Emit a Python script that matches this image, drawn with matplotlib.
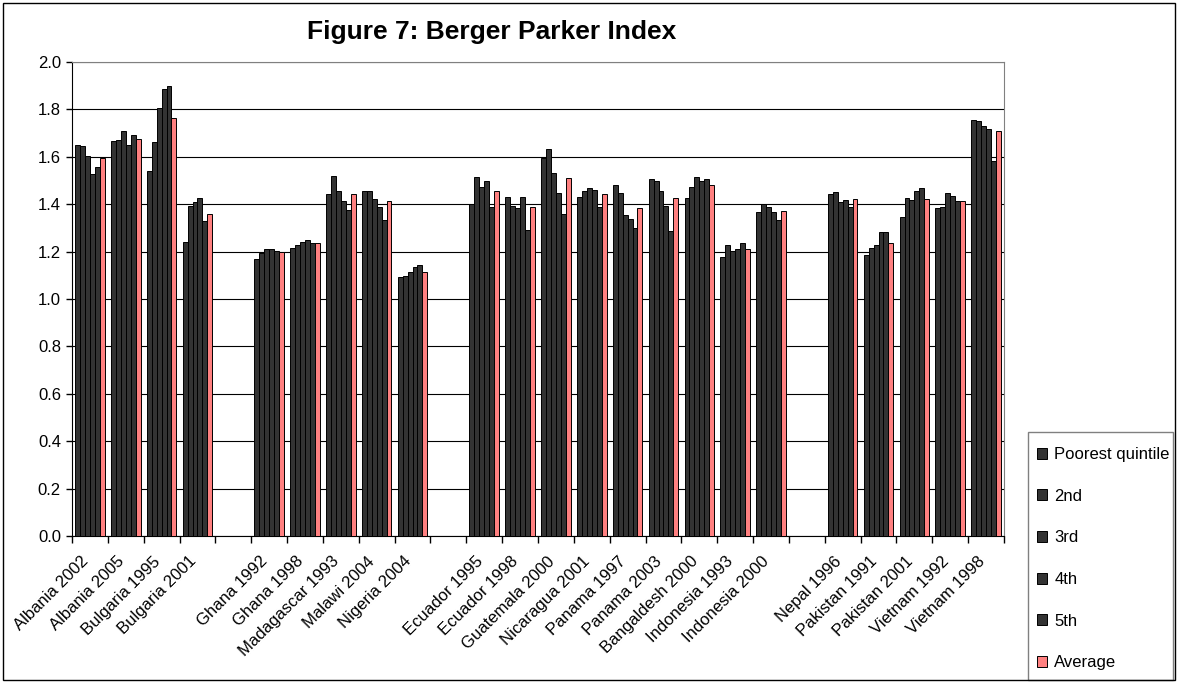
import numpy as np
import matplotlib
matplotlib.use('Agg')
import matplotlib.pyplot as plt
import matplotlib.transforms as mtransforms
from matplotlib.patches import Rectangle

plt.rcParams['font.family'] = ['Liberation Sans', 'DejaVu Sans']

# categories, '' marks the empty slot between regions
countries = ['Albania 2002', 'Albania 2005', 'Bulgaria 1995', 'Bulgaria 2001', '',
             'Ghana 1992', 'Ghana 1998', 'Madagascar 1993', 'Malawi 2004', 'Nigeria 2004', '',
             'Ecuador 1995', 'Ecuador 1998', 'Guatemala 2000', 'Nicaragua 2001', 'Panama 1997',
             'Panama 2003', 'Bangaldesh 2000', 'Indonesia 1993', 'Indonesia 2000', '',
             'Nepal 1996', 'Pakistan 1991', 'Pakistan 2001', 'Vietnam 1992', 'Vietnam 1998']

nan = np.nan
poorest = [1.650, 1.666, 1.539, 1.239, nan, 1.170, 1.217, 1.442, 1.456, 1.092, nan,
           1.402, 1.432, 1.593, 1.432, 1.480, 1.505, 1.428, 1.178, 1.368, nan,
           1.442, 1.184, 1.344, 1.382, 1.757]
second = [1.646, 1.671, 1.662, 1.394, nan, 1.195, 1.227, 1.518, 1.456, 1.096, nan,
          1.514, 1.394, 1.632, 1.456, 1.447, 1.499, 1.471, 1.227, 1.402, nan,
          1.451, 1.217, 1.428, 1.388, 1.752]
third = [1.602, 1.710, 1.807, 1.408, nan, 1.213, 1.241, 1.456, 1.422, 1.116, nan,
         1.471, 1.382, 1.533, 1.467, 1.354, 1.456, 1.514, 1.202, 1.388, nan,
         1.408, 1.227, 1.416, 1.447, 1.729]
fourth = [1.529, 1.650, 1.884, 1.428, nan, 1.209, 1.251, 1.412, 1.388, 1.134, nan,
          1.499, 1.432, 1.447, 1.460, 1.339, 1.394, 1.499, 1.213, 1.368, nan,
          1.416, 1.281, 1.456, 1.436, 1.718]
fifth = [1.557, 1.690, 1.900, 1.330, nan, 1.202, 1.237, 1.374, 1.333, 1.144, nan,
         1.388, 1.291, 1.360, 1.388, 1.299, 1.287, 1.505, 1.237, 1.333, nan,
         1.388, 1.281, 1.467, 1.412, 1.583]
average = [1.595, 1.676, 1.763, 1.358, nan, 1.198, 1.237, 1.442, 1.412, 1.116, nan,
           1.456, 1.388, 1.509, 1.442, 1.382, 1.428, 1.480, 1.212, 1.372, nan,
           1.422, 1.237, 1.422, 1.412, 1.710]

series = [('Poorest quintile', poorest), ('2nd', second), ('3rd', third),
          ('4th', fourth), ('5th', fifth), ('Average', average)]
colors = ['#333333'] * 5 + ['#ff8080']

W, H = 1177, 682
fig = plt.figure(figsize=(W / 100, H / 100), dpi=100)
ax = fig.add_axes([72 / W, 1 - 536 / H, (1004 - 72) / W, (536 - 62) / H])

x = np.arange(len(countries))
w = 0.137
for i, (name, vals) in enumerate(series):
    ax.bar(x + (i - 2.5) * w, vals, w, color=colors[i], edgecolor='black',
           linewidth=0.7, label=name, zorder=3)

ax.set_xlim(-0.5, len(countries) - 0.5)
ax.set_ylim(0, 2.0)
yt = np.arange(0, 2.01, 0.2)
ax.set_yticks(yt)
ax.set_yticklabels([f'{v:.1f}' for v in yt], fontsize=12)
ax.yaxis.grid(True, color='black', linewidth=0.8, zorder=0)

ax.set_xticks(x)
ax.set_xticklabels(countries, rotation=45, ha='right', va='center',
                   rotation_mode='anchor', fontsize=12)
ax.set_xticks(np.arange(-0.5, len(countries), 1), minor=True)
ax.tick_params(axis='x', which='major', length=0, pad=0)
ax.tick_params(axis='x', which='minor', length=5, width=1, direction='out')
ax.tick_params(axis='y', length=4, width=1, direction='out', pad=4)

# excel puts the rotated label end a little left of / below the tick
offset = mtransforms.ScaledTranslation(-4 / 100, -23 / 100, fig.dpi_scale_trans)
for lab in ax.get_xticklabels():
    lab.set_transform(lab.get_transform() + offset)

for s in ['top', 'right']:
    ax.spines[s].set_color('#808080')
for s in ['left', 'bottom']:
    ax.spines[s].set_color('black')

fig.text(492 / W, 1 - 32 / H, 'Figure 7: Berger Parker Index', fontsize=19,
         fontweight='bold', ha='center', va='center')

leg = fig.legend(loc='upper left', bbox_to_anchor=(1037 / W, 1 - 447 / H),
                 borderaxespad=0, fontsize=12, labelspacing=1.6, handlelength=0.62,
                 handleheight=0.62, handletextpad=0.42, borderpad=0, frameon=False)
fig.patches.append(Rectangle((1028 / W, 1 - 680 / H), 145 / W, 248 / H,
                             transform=fig.transFigure, fill=False, edgecolor='#808080',
                             linewidth=1))

fig.patches.append(Rectangle((2.5 / W, 2.5 / H), 1 - 5 / W, 1 - 5 / H,
                             transform=fig.transFigure, fill=False, edgecolor='black',
                             linewidth=1))

fig.savefig('out.png', dpi=100)
